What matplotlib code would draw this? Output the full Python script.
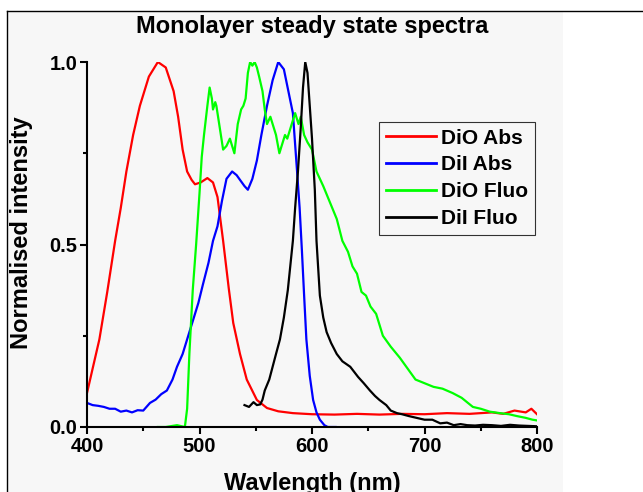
import matplotlib
matplotlib.use("Agg")
import matplotlib.pyplot as plt
from matplotlib.lines import Line2D
from matplotlib.patches import Rectangle
from matplotlib.ticker import MultipleLocator

plt.rcParams['font.family'] = ['Liberation Sans', 'DejaVu Sans']
plt.rcParams['font.weight'] = 'bold'

# DiO absorption (red)
dio_abs_wl = [400, 405, 411, 418, 425, 430, 435, 441, 447, 455, 463, 470, 477, 481,
              485, 489, 493, 496, 501, 507, 512, 516, 521, 526, 530, 536, 542, 551,
              560, 570, 583, 600, 620, 640, 660, 680, 700, 720, 740, 760, 770, 780,
              790, 795, 800]
dio_abs = [0.093, 0.16, 0.24, 0.37, 0.51, 0.60, 0.70, 0.80, 0.88, 0.96, 1.0, 0.985,
           0.92, 0.85, 0.76, 0.70, 0.677, 0.665, 0.67, 0.682, 0.67, 0.63, 0.51, 0.38,
           0.285, 0.20, 0.13, 0.074, 0.052, 0.043, 0.038, 0.035, 0.034, 0.036, 0.034,
           0.036, 0.035, 0.038, 0.036, 0.040, 0.036, 0.045, 0.040, 0.050, 0.035]

# DiI absorption (blue)
dii_abs_wl = [400, 405, 410, 415, 420, 425, 430, 435, 440, 445, 450, 456, 461, 466,
              471, 476, 480, 485, 489, 494, 499, 503, 508, 512, 516, 520, 524, 529,
              533, 536, 540, 543, 547, 551, 555, 560, 565, 570, 575, 579, 583, 586.5,
              589, 591, 593, 595, 598, 601, 604, 607, 611, 614, 621]
dii_abs = [0.066, 0.060, 0.058, 0.055, 0.050, 0.050, 0.042, 0.045, 0.040, 0.046,
           0.045, 0.066, 0.075, 0.090, 0.10, 0.13, 0.165, 0.20, 0.24, 0.29, 0.34,
           0.39, 0.45, 0.51, 0.55, 0.62, 0.68, 0.70, 0.69, 0.677, 0.66, 0.65, 0.68,
           0.73, 0.80, 0.88, 0.95, 1.0, 0.98, 0.92, 0.86, 0.71, 0.60, 0.485, 0.36,
           0.24, 0.14, 0.074, 0.04, 0.02, 0.005, 0.0, 0.0]

# DiO fluorescence (green)
dio_fl_wl = [463, 470, 480, 487, 489, 491, 494, 497, 500, 502, 504, 507, 509, 511,
             512, 514, 515, 518, 521, 524, 527, 529, 531, 534, 537, 539, 541, 543,
             545, 547, 549, 551, 553, 556, 558, 560, 563, 565, 568, 571, 573, 576,
             578, 580, 583, 585, 588, 590, 593, 596, 600, 604, 607, 610, 614, 618,
             622, 627, 632, 636, 640, 644, 648, 652, 657, 663, 670, 678, 685, 692,
             700, 708, 716, 725, 733, 743, 750, 758, 767, 775, 782, 790, 796, 800]
dio_fl = [0.0, 0.0, 0.005, 0.0, 0.05, 0.20, 0.375, 0.50, 0.64, 0.74, 0.80, 0.88,
          0.93, 0.90, 0.87, 0.89, 0.88, 0.82, 0.76, 0.77, 0.79, 0.77, 0.75, 0.83,
          0.87, 0.88, 0.90, 0.97, 1.0, 0.99, 1.0, 0.985, 0.96, 0.92, 0.87, 0.83,
          0.85, 0.83, 0.80, 0.75, 0.77, 0.80, 0.79, 0.81, 0.84, 0.86, 0.83, 0.85,
          0.80, 0.78, 0.76, 0.70, 0.68, 0.66, 0.63, 0.60, 0.57, 0.51, 0.48, 0.44,
          0.42, 0.37, 0.36, 0.33, 0.31, 0.25, 0.22, 0.19, 0.16, 0.13, 0.12, 0.11,
          0.105, 0.093, 0.08, 0.055, 0.05, 0.042, 0.038, 0.035, 0.03, 0.025, 0.02,
          0.018]

# DiI fluorescence (black)
dii_fl_wl = [540, 544, 548, 551, 554, 556, 558, 562, 565, 568, 571.5, 575, 578.5,
             581, 583, 585, 587.5, 590, 592, 594, 596, 598, 600, 602.5, 604, 607,
             610, 613, 617, 622, 627, 634, 641, 646, 651.5, 656, 660, 666, 670,
             675.5, 680, 686, 693, 700, 707, 714, 720, 726, 732, 738, 745, 752, 760,
             768, 776, 784, 792, 800]
dii_fl = [0.06, 0.055, 0.068, 0.06, 0.062, 0.075, 0.10, 0.13, 0.165, 0.20, 0.24,
          0.30, 0.375, 0.45, 0.51, 0.60, 0.70, 0.82, 0.93, 1.0, 0.97, 0.88, 0.79,
          0.65, 0.51, 0.36, 0.30, 0.26, 0.23, 0.20, 0.18, 0.165, 0.137, 0.12, 0.10,
          0.085, 0.074, 0.06, 0.045, 0.038, 0.035, 0.03, 0.025, 0.02, 0.02, 0.01,
          0.012, 0.005, 0.008, 0.005, 0.004, 0.006, 0.005, 0.003, 0.006, 0.004,
          0.003, 0.002]

W, H = 643, 492
fig = plt.figure(figsize=(W / 100, H / 100), dpi=100)

# light grey page and frame lines
fig.add_artist(Rectangle((7 / W, 0), (563 - 7) / W, 1 - 11 / H,
                         transform=fig.transFigure, facecolor='#f7f7f7',
                         edgecolor='none', zorder=-10))
fig.add_artist(Line2D([7 / W, 7 / W], [0, 1 - 11 / H], transform=fig.transFigure,
                      color='black', lw=1))
fig.add_artist(Line2D([7 / W, 1], [1 - 11 / H, 1 - 11 / H], transform=fig.transFigure,
                      color='black', lw=1))

ax = fig.add_axes([87 / W, 1 - 427 / H, 450 / W, 365 / H])
ax.set_facecolor('none')

ax.plot(dio_abs_wl, dio_abs, color='#ff0000', lw=1.6, label='DiO Abs')
ax.plot(dii_abs_wl, dii_abs, color='#0000ff', lw=1.6, label='DiI Abs')
ax.plot(dio_fl_wl, dio_fl, color='#00ff00', lw=1.6, label='DiO Fluo')
ax.plot(dii_fl_wl, dii_fl, color='black', lw=1.6, label='DiI Fluo')

ax.set_xlim(400, 800)
ax.set_ylim(0, 1.0)
ax.xaxis.set_major_locator(MultipleLocator(100))
ax.xaxis.set_minor_locator(MultipleLocator(50))
ax.yaxis.set_major_locator(MultipleLocator(0.5))
ax.yaxis.set_minor_locator(MultipleLocator(0.25))
ax.set_yticks([0, 0.5, 1.0])
ax.set_yticklabels(['0.0', '0.5', '1.0'])

for s in ['top', 'right']:
    ax.spines[s].set_visible(False)
for s in ['left', 'bottom']:
    ax.spines[s].set_linewidth(1.5)

ax.tick_params(which='major', direction='out', length=5, width=1.5,
               labelsize=14.5, pad=2)
ax.tick_params(which='minor', direction='out', length=3, width=1.5)
for lbl in ax.get_xticklabels() + ax.get_yticklabels():
    lbl.set_fontweight('bold')

leg = ax.legend(loc='upper left', bbox_to_anchor=(0.649, 0.836), fontsize=15,
                frameon=True, fancybox=False, handlelength=2.4, handletextpad=0.25,
                labelspacing=0.38, borderpad=0.32, borderaxespad=0)
leg.get_frame().set_edgecolor('black')
leg.get_frame().set_linewidth(0.8)
leg.get_frame().set_facecolor('none')
for line in leg.get_lines():
    line.set_linewidth(2)

fig.text(312 / W, 1 - 26 / H, 'Monolayer steady state spectra', ha='center',
         va='center', fontsize=17, fontweight='bold')
fig.text(312 / W, 1 - 490 / H, 'Wavlength (nm)', ha='center', va='baseline',
         fontsize=17, fontweight='bold')
fig.text(22 / W, 1 - 233 / H, 'Normalised intensity', ha='center', va='center',
         rotation=90, fontsize=17, fontweight='bold')

fig.savefig('out.png', dpi=100)
